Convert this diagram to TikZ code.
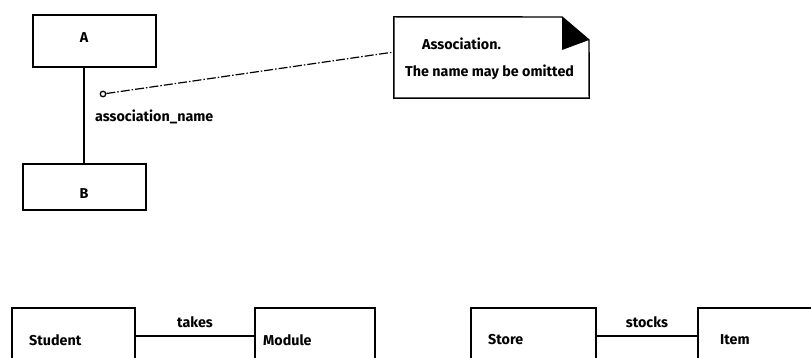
\documentclass[tikz,border=0pt]{standalone}
\usepackage{fontspec}
\setmainfont{Fira Sans}
\begin{document}
\begin{tikzpicture}[x=1pt,y=-1pt,
  cls/.style={draw, line width=1.4pt, inner sep=0pt, outer sep=0pt},
  lbl/.style={font=\bfseries\fontsize{14.3}{16}\selectfont, inner sep=0pt},
  link/.style={line width=1.4pt},
  notelink/.style={line width=1.2pt, dash pattern=on 9pt off 2pt on 1.5pt off 2pt},
]
\clip (0,0) rectangle (811,358);
\fill[white] (0,0) rectangle (811,358);

% association A -- B with its name
\node[cls, minimum width=123pt, minimum height=52pt] (A) at (94.5,41) {};
\node[cls, minimum width=123pt, minimum height=46pt] (B) at (84.5,187) {};
\node[lbl] (Atext) at (84,38) {A};
\node[lbl] (Btext) at (84,194) {B};
\draw[link] (A.south -| Atext) -- (B.north -| Atext);
\node[draw, circle, line width=1.3pt, minimum size=5.5pt, inner sep=0pt] (dot) at (103,94) {};
\node[lbl, anchor=west] (aname) at (95,117) {association\_name};

% note with folded corner
\node[minimum width=195pt, minimum height=81pt, inner sep=0pt] (note) at (491.5,57.5) {};
\draw[link] (note.north west) -- (562,17) -- (589,40) -- (note.south east) -- (note.south west) -- cycle;
\fill (562,17) -- (589,40) -- (562,50) -- cycle;
\coordinate (notein) at (394,52);
\draw[notelink] (dot) -- (notein);
\node[lbl, anchor=west] (n1) at (422,44) {Association.};
\node[lbl, anchor=west] (n2) at (405,72) {The name may be omitted};

% Student takes Module
\node[cls, minimum width=123pt, minimum height=56pt] (Student) at (73.5,336) {};
\node[cls, minimum width=120pt, minimum height=56pt] (Module) at (315,336) {};
\node[lbl, anchor=west] (st) at (29,340) {Student};
\node[lbl, anchor=west] (mo) at (263,340) {Module};
\draw[link] (Student.east) -- node[lbl, above=8pt] (takes) {takes} (Module.west);

% Store stocks Item
\node[cls, minimum width=125pt, minimum height=56pt] (Store) at (533.5,336) {};
\node[cls, minimum width=140pt, minimum height=56pt] (Item) at (768,336) {};
\node[lbl, anchor=west] (so) at (488,340) {Store};
\node[lbl, anchor=west] (it) at (720,340) {Item};
\draw[link] (Store.east) -- node[lbl, above=8pt] (stocks) {stocks} (Item.west);
\end{tikzpicture}
\end{document}
